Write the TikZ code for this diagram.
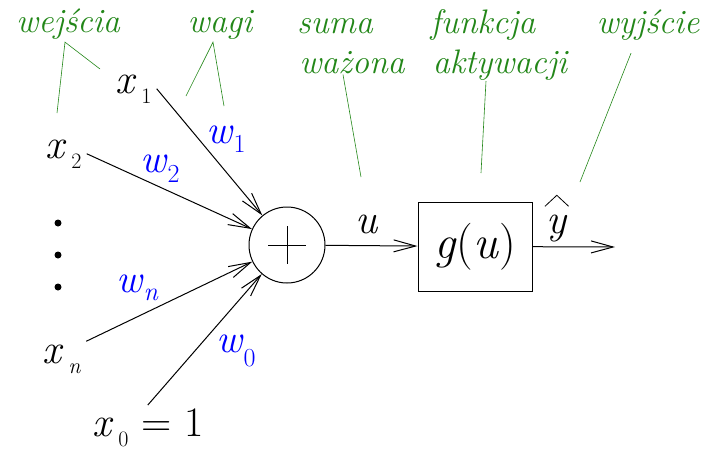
\documentclass[tikz,border=0pt]{standalone}
\usetikzlibrary{arrows.meta,calc}

\definecolor{notegreen}{RGB}{35,135,25}
\newcommand{\xfont}{\fontsize{42}{42}\selectfont}
\newcommand{\gfont}{\fontsize{47}{47}\selectfont}
\newcommand{\wfont}{\fontsize{40}{40}\selectfont}
\newcommand{\subfont}{\fontsize{22}{22}\selectfont}
\newcommand{\wsubfont}{\fontsize{26}{26}\selectfont}
\newcommand{\notefont}{\fontsize{34}{34}\selectfont\itshape}
\newcommand{\inp}[1]{\textit{x}\hspace{5pt}\raisebox{-10pt}{\subfont #1}}
\newcommand{\wgt}[2]{\textit{w}\raisebox{-#2}{\wsubfont #1}}

\begin{document}
\begin{tikzpicture}[x=1pt,y=-1pt,
  conn/.style={line width=1pt, -{Straight Barb[length=22pt,width=12pt]}},
  leader/.style={draw=notegreen, line width=0.6pt},
  note/.style={text=notegreen, font=\notefont, inner sep=1pt},
  invar/.style={inner sep=0pt, inner xsep=5pt, inner ysep=3pt, font=\xfont},
  weight/.style={text=blue, inner sep=0pt, font=\wfont}]
\useasboundingbox (0,0) rectangle (707,451);

% neuron: sumator i funkcja aktywacji
\node[circle, draw, line width=1pt, minimum size=76pt, inner sep=0pt] (sum) at (287,245) {};
\draw[line width=1pt] ($(sum.center)+(-19,0)$) -- ($(sum.center)+(19,0)$)
  ($(sum.center)+(0,-19)$) -- ($(sum.center)+(0,19)$);
\node[draw, line width=1pt, minimum width=114pt, minimum height=89pt, font=\gfont] (act) at (475,246.5) {\textit{g}(\textit{u})};
\coordinate (out) at (615,247);

% wejscia
\node[invar, anchor=base west] (x1) at (110,93) {\inp{1}};
\node[invar, anchor=base west] (x2) at (40,158) {\inp{2}};
\node[invar, anchor=base west] (xn) at (37,363) {\inp{\textit{n}}};
\node[invar, anchor=base west] (x0) at (87,436) {\inp{0} = 1};
\foreach \y [count=\i] in {223,255,287}
  \fill (58,\y) circle (3.5pt) coordinate (dot\i);

% wagi
\node[weight, anchor=base west] (w1) at (206,143) {\wgt{1}{9pt}};
\node[weight, anchor=base west] (w2) at (140,172) {\wgt{2}{10pt}};
\node[weight, anchor=base west] (wn) at (116,292) {\wgt{\textit{n}}{8pt}};
\node[weight, anchor=base west] (w0) at (216,352) {\wgt{0}{14pt}};

\node[inner sep=0pt, font=\xfont, anchor=base west] (u) at (355,233) {\textit{u}};
\node[inner sep=0pt, font=\xfont, anchor=base west] (yhat) at (546,233) {\textit{y}};
\draw[line width=0.8pt] ($(yhat.north west)+(-1,-8)$) -- ($(yhat.north)+(0,-19)$)
  -- ($(yhat.north east)+(1,-8)$);

\draw[conn] (x1.east) -- (sum);
\draw[conn] (x2.east) -- (sum);
\draw[conn] (xn.north east) -- (sum);
\draw[conn] (x0.north) -- (sum);
\draw[conn] (sum) -- (act);
\draw[conn] (act) -- (out);

% opisy
\node[note, anchor=base] (wejscia) at (68,32) {wejścia};
\node[note, anchor=base] (wagi) at (220,32) {wagi};
\node[note, anchor=base] (suma) at (335,33) {suma};
\node[note, anchor=base] (wazona) at (352,73) {ważona};
\node[note, anchor=base] (funkcja) at (483,33) {funkcja};
\node[note, anchor=base] (aktywacji) at (500,73) {aktywacji};
\node[note, anchor=base] (wyjscie) at (648,33) {wyjście};

\coordinate (wej-a) at (100,69);
\coordinate (wej-b) at (57,113);
\coordinate (wag-a) at (186,96);
\coordinate (wag-b) at (224,106);
\coordinate (sum-a) at (361,177);
\coordinate (akt-a) at (481,173);
\coordinate (wyj-a) at (580,182);

\draw[leader] (wej-a) -- ($(wejscia.south)+(-3,2)$) -- (wej-b);
\draw[leader] (wag-a) -- ($(wagi.south)+(-7,2)$) -- (wag-b);
\draw[leader] ($(wazona.south)+(-9,0)$) -- (sum-a);
\draw[leader] ($(aktywacji.south)+(-14,0)$) -- (akt-a);
\draw[leader] ($(wyjscie.south)+(-17,12)$) -- (wyj-a);
\end{tikzpicture}
\end{document}
